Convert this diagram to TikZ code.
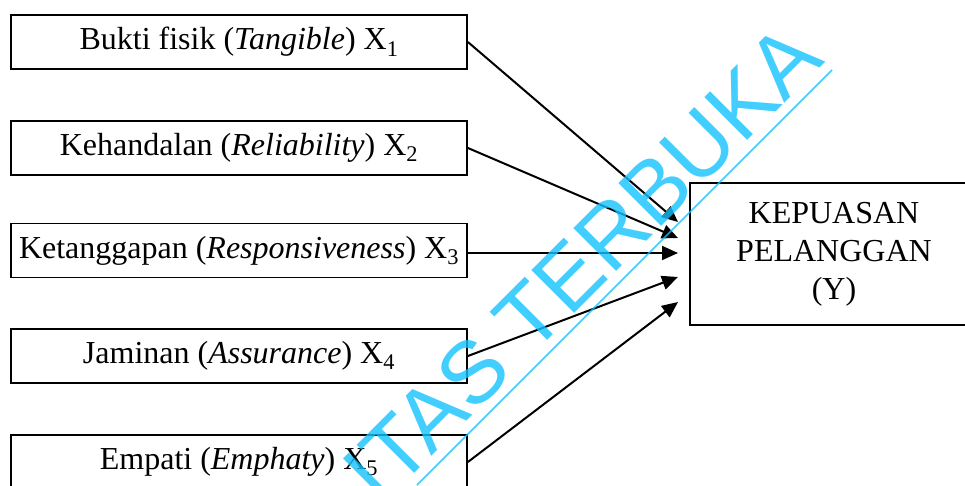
\documentclass[tikz,border=0pt]{standalone}
\usepackage{fontspec}
\setmainfont{Liberation Serif}
\newfontfamily\wmfont{Liberation Sans}
\usetikzlibrary{arrows.meta}
\definecolor{wmcyan}{RGB}{19,194,255}
\begin{document}
\begin{tikzpicture}[x=1pt,y=-1pt,
  varbox/.style={draw,line width=1.8pt,rectangle,minimum width=456pt,minimum height=54pt,inner sep=0pt,font=\fontsize{32}{37}\selectfont},
  ybox/.style={draw,line width=1.8pt,rectangle,minimum width=288pt,minimum height=142pt,inner sep=0pt,align=center,font=\fontsize{32}{38}\selectfont},
  link/.style={line width=2pt,-{Triangle[length=16pt,width=14pt]}},
  wm/.style={text=wmcyan,opacity=0.8,font=\wmfont\fontsize{88}{88}\selectfont,inner sep=0pt}
]
\useasboundingbox (0,0) rectangle (965,485);
\node[varbox] (x1) at (239,42) {Bukti fisik (\textit{Tangible}) X\textsubscript{1}};
\node[varbox] (x2) at (239,148) {Kehandalan (\textit{Reliability}) X\textsubscript{2}};
\node[varbox] (x3) at (239,250.5) {Ketanggapan (\textit{Responsiveness}) X\textsubscript{3}};
\node[varbox] (x4) at (239,356) {Jaminan (\textit{Assurance}) X\textsubscript{4}};
\node[varbox] (x5) at (239,462) {Empati (\textit{Emphaty}) X\textsubscript{5}};
\node[ybox] (y) at (834,254) {KEPUASAN\\PELANGGAN\\(Y)};
\coordinate (t1) at (678,222);
\coordinate (t2) at (678,238);
\coordinate (t3) at (678,253);
\coordinate (t4) at (678,277);
\coordinate (t5) at (678,302);
\draw[link] (x1.east) -- (t1);
\draw[link] (x2.east) -- (t2);
\draw[link] (x3.east |- t3) -- (t3);
\draw[link] (x4.east) -- (t4);
\draw[link] (x5.east) -- (t5);
\coordinate (w1) at (417,485);
\coordinate (w2) at (832,70);
\draw[wmcyan,opacity=0.8,line width=1.5pt] (w1) -- (w2);
\node[wm,rotate=45,anchor=base east] (wmtext) at (826,62) {ITAS TERBUKA};
\end{tikzpicture}
\end{document}
